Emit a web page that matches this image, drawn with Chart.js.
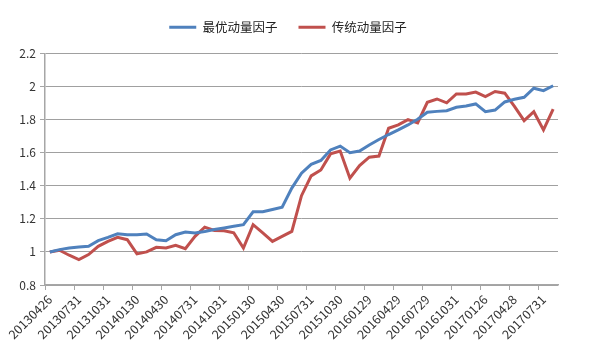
<!DOCTYPE html>
<html>
<head>
<meta charset="utf-8">
<script src="https://cdn.jsdelivr.net/npm/chart.js@4/dist/chart.umd.min.js"></script>
<style>
html,body{margin:0;padding:0;background:#fff;}
#wrap{width:598px;height:364px;}
</style>
</head>
<body>
<div id="wrap"><canvas id="c" width="598" height="364"></canvas></div>
<script>
const dates = ["20130426","20130531","20130628","20130731","20130830","20130930","20131031","20131129","20131231",
"20140130","20140228","20140331","20140430","20140530","20140630","20140731","20140829","20140930","20141031","20141128","20141231",
"20150130","20150227","20150331","20150430","20150529","20150630","20150731","20150831","20150930","20151030","20151130","20151231",
"20160129","20160229","20160331","20160429","20160531","20160630","20160729","20160831","20160930","20161031","20161130","20161230",
"20170126","20170228","20170331","20170428","20170531","20170630","20170731","20170831"];
const seriesNames = ["最优动量因子","传统动量因子"];
const optimalMomentum = [1.000,1.014,1.024,1.030,1.034,1.068,1.088,1.110,1.104,1.104,1.108,1.074,1.068,1.104,1.120,1.114,1.124,1.136,1.145,1.155,1.165,1.243,1.243,1.257,1.270,1.386,1.476,1.530,1.553,1.617,1.640,1.600,1.610,1.647,1.680,1.710,1.738,1.768,1.802,1.845,1.850,1.854,1.875,1.882,1.895,1.848,1.858,1.907,1.923,1.935,1.990,1.975,2.005];
const traditionalMomentum = [1.000,1.010,0.980,0.954,0.984,1.034,1.064,1.088,1.074,0.988,1.000,1.028,1.024,1.040,1.020,1.094,1.150,1.130,1.128,1.116,1.024,1.165,1.115,1.064,1.094,1.124,1.340,1.460,1.496,1.593,1.610,1.446,1.522,1.573,1.580,1.748,1.768,1.800,1.780,1.905,1.925,1.902,1.955,1.955,1.967,1.940,1.970,1.960,1.880,1.794,1.848,1.738,1.864];
const yTicks = [0.8,1.0,1.2,1.4,1.6,1.8,2.0,2.2];
const labelEvery = 3;

const FONT = "'Microsoft YaHei','Noto Sans CJK SC','Noto Sans',sans-serif";

const legendSpacer = {
  id: 'legendSpacer',
  beforeInit(chart) {
    const orig = chart.legend.fit;
    chart.legend.fit = function() {
      orig.call(this);
      this.height += 10;
    };
  },
  afterUpdate(chart) {
    const lg = chart.legend;
    lg.left += 9; lg.right += 9;
    if (lg.legendHitBoxes) lg.legendHitBoxes.forEach(h => { h.left += 9; });
  }
};

new Chart(document.getElementById('c'), {
  type: 'line',
  data: {
    labels: dates,
    datasets: [
      {label: seriesNames[0], data: optimalMomentum, borderColor: '#4f81bd', backgroundColor: '#4f81bd', borderWidth: 3, pointRadius: 0, tension: 0},
      {label: seriesNames[1], data: traditionalMomentum, borderColor: '#c0504d', backgroundColor: '#c0504d', borderWidth: 3, pointRadius: 0, tension: 0}
    ]
  },
  options: {
    responsive: false,
    devicePixelRatio: 1,
    animation: false,
    layout: {padding: {left: 0, right: 40, top: 0, bottom: 0}},
    plugins: {
      tooltip: {enabled: false},
      legend: {
        position: 'top',
        labels: {
          boxWidth: 27, boxHeight: 3, padding: 21,
          color: '#222', font: {family: FONT, size: 12.5},
          generateLabels(chart) {
            return Chart.defaults.plugins.legend.labels.generateLabels(chart).map(l => Object.assign(l, {lineWidth: 0, fillStyle: l.strokeStyle}));
          }
        }
      }
    },
    scales: {
      x: {
        type: 'category',
        offset: true,
        grid: {
          offset: true,
          drawOnChartArea: false,
          drawTicks: true,
          tickLength: 5,
          color: ctx => (ctx.index !== undefined && ctx.index % labelEvery === 0 && ctx.index < dates.length - 1) ? '#a6a6a6' : 'rgba(0,0,0,0)'
        },
        border: {display: true, color: '#a6a6a6', width: 1.5},
        ticks: {
          autoSkip: false, minRotation: 45, maxRotation: 45, padding: 2,
          color: '#333', font: {family: FONT, size: 12.5},
          callback: (v, i) => i % labelEvery === 0 ? dates[i] : ''
        },
        afterFit: s => { s.height = 79; }
      },
      y: {
        min: 0.8, max: 2.2,
        afterBuildTicks: s => { s.ticks = yTicks.map(v => ({value: v})); },
        grid: {
          color: '#a0a0a0', lineWidth: 1, borderDash: [4, 2], drawTicks: true, tickLength: 5,
          tickColor: '#a6a6a6'
        },
        border: {display: true, color: '#a6a6a6', width: 1.5},
        ticks: {
          padding: 4, color: '#333', font: {family: FONT, size: 12},
          callback: v => String(+(+v).toFixed(1))
        },
        afterFit: s => { s.width = 45; }
      }
    }
  },
  plugins: [legendSpacer]
});
</script>
</body>
</html>
